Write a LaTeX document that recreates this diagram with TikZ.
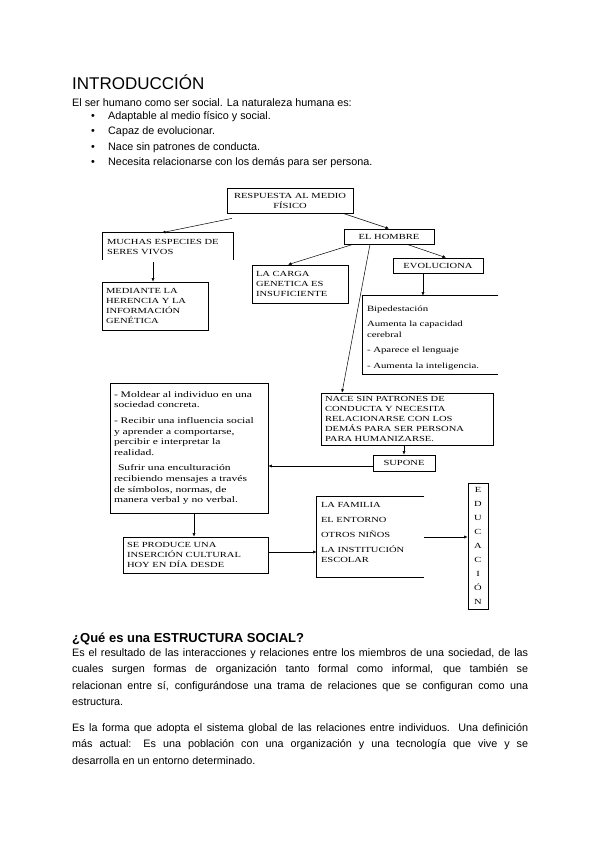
\documentclass[tikz,border=0pt]{standalone}
\usepackage{fontspec}
\setmainfont{Liberation Sans}
\newfontfamily\diagfont[FakeStretch=1.35]{Liberation Serif}
\usetikzlibrary{arrows.meta,positioning,calc}

\begin{document}
\begin{tikzpicture}[
    x=1pt, y=-1pt,
    every node/.style={inner sep=0pt},
    title/.style={font=\fontsize{17}{20}\selectfont},
    head/.style={font=\bfseries\fontsize{13}{16}\selectfont},
    body/.style={font=\fontsize{10.8}{16.5}\selectfont},
    para/.style={body, text width=456pt, align=justify, anchor=north west},
    box/.style={
        draw, line width=0.7pt,
        font=\diagfont\fontsize{7.8}{10}\selectfont,
        align=left,
        inner xsep=4pt, inner ysep=2pt
    },
    openbox/.style={box, draw=none},
    frame/.style={line width=0.7pt},
    arrow/.style={-{Latex[length=3.5pt,width=3pt]}, line width=0.5pt}
]

\path[use as bounding box, fill=white] (0,0) rectangle (600,848);

%% ── Introduction text ────────────────────────────────
\node[title, anchor=base west] (intro) at (72,90) {INTRODUCCIÓN};
\node[body, anchor=base west] (lead) at (72,107)
    {El ser humano como ser social. La naturaleza humana es:};
\foreach \t [count=\i] in {Adaptable al medio físico y social.,
    Capaz de evolucionar., Nace sin patrones de conducta.,
    Necesita relacionarse con los demás para ser persona.}{
    \node[body, anchor=base] (dot\i) at (93,{120+15*(\i-1)}) {\textbullet};
    \node[body, anchor=base west] (item\i) at (108,{120+15*(\i-1)}) {\t};
}

%% ── Top of the map ───────────────────────────────────
\node[box, align=center, text width=118pt, minimum height=25pt] (resp) at (290,200.5)
    {RESPUESTA AL MEDIO\\FÍSICO};
\node[openbox, text width=122pt, minimum height=27pt] (muchas) at (168,246.5)
    {MUCHAS ESPECIES DE\\SERES VIVOS};
\node[box, text width=98pt, minimum height=48pt] (mediante) at (155,306)
    {MEDIANTE LA\\HERENCIA Y LA\\INFORMACIÓN\\GENÉTICA};
\node[box, align=center, text width=82pt, minimum height=15pt] (hombre) at (389,236.5)
    {EL HOMBRE};
\node[box, text width=88pt, minimum height=38pt] (carga) at (300,284)
    {LA CARGA\\GENETICA ES\\INSUFICIENTE};
\node[box, align=center, text width=82pt, minimum height=15pt] (evol) at (438,265.5)
    {EVOLUCIONA};
\node[openbox, text width=127pt, minimum height=78pt,
      font=\diagfont\fontsize{8}{11}\selectfont] (biped) at (430.5,335)
    {\mbox{}\\[1pt]Bipedestación\\[4pt]Aumenta la capacidad\\cerebral\\[4pt]- Aparece el lenguaje\\[5pt]- Aumenta la inteligencia.};

%% ── Lower part of the map ────────────────────────────
\node[box, text width=164pt, minimum height=52pt] (nace) at (407,419)
    {NACE SIN PATRONES DE\\CONDUCTA Y NECESITA\\RELACIONARSE CON LOS\\DEMÁS PARA SER PERSONA\\PARA HUMANIZARSE.};
\node[box, align=center, text width=54pt, minimum height=16pt] (supone) at (404,463)
    {SUPONE};
\node[box, text width=150pt, minimum height=130pt,
      font=\diagfont\fontsize{8.6}{10.6}\selectfont] (moldear) at (189,448)
    {- Moldear al individuo en una\\sociedad concreta.\\[5pt]- Recibir una influencia social\\y aprender a comportarse,\\percibir e interpretar la\\realidad.\\[5pt]\hspace*{4pt}Sufrir una enculturación\\recibiendo mensajes a través\\de símbolos, normas, de\\manera verbal y no verbal.};
\node[box, text width=137pt, minimum height=36pt] (seprod) at (195.5,555)
    {SE PRODUCE UNA\\INSERCIÓN CULTURAL\\HOY EN DÍA DESDE};
\node[openbox, text width=99pt, minimum height=80pt] (familia) at (370.5,537)
    {LA FAMILIA\\[5pt]EL ENTORNO\\[5pt]OTROS NIÑOS\\[5pt]LA INSTITUCIÓN\\ESCOLAR\\\mbox{}};
\node[box, align=center, inner xsep=0pt, text width=20pt, minimum height=126pt,
      font=\diagfont\fontsize{7.8}{14}\selectfont] (educ) at (478,546)
    {E\\D\\U\\C\\A\\C\\I\\Ó\\N};

%% ── Open frames ──────────────────────────────────────
\draw[frame] (muchas.south west) -- (muchas.north west) -- (muchas.north east) -- (muchas.south east);
\draw[frame] (biped.north east) -- (biped.north west) -- (biped.south west) -- (biped.south east);
\draw[frame] (familia.north east) -- (familia.north west) -- (familia.south west) -- (familia.south east);

%% ── Connectors ───────────────────────────────────────
\coordinate (mtap) at ([xshift=-15pt,yshift=-2pt]muchas.south);
\coordinate (etap) at ([xshift=-15pt]evol.south);
\coordinate (stap) at ([yshift=-3pt]supone.west);
\coordinate (ltap) at ([xshift=5pt]moldear.south);
\coordinate (ftap) at ([yshift=3pt]seprod.east);

\draw[arrow] ([xshift=-58pt,yshift=-5pt]resp.south) -- ([xshift=-6pt]muchas.north);
\draw[arrow] ([xshift=53pt]resp.south) -- (hombre.north);
\draw[arrow] ([xshift=-36pt]hombre.south) -- ([xshift=-12pt]carga.north);
\draw[arrow] ([xshift=-19pt]hombre.south) -- ([xshift=-65pt]nace.north);
\draw[arrow] ([xshift=18pt]hombre.south) -- ([xshift=8pt]evol.north);
\draw[arrow] (etap) -- (etap |- biped.north);
\draw[arrow] (mtap) -- (mtap |- mediante.north);
\draw[arrow] (nace.south -| supone.north) -- (supone.north);
\draw[arrow] (stap) -- (stap -| moldear.east);
\draw[arrow] (ltap) -- (ltap |- seprod.north);
\draw[arrow] (ftap) -- (ftap -| familia.west);
\draw[arrow] (familia.east) -- (familia.east -| educ.west);

%% ── Social structure text ────────────────────────────
\node[head, anchor=base west] (estr) at (72,642) {¿Qué es una ESTRUCTURA SOCIAL?};
\node[para] (def1) at (72,648)
    {Es el resultado de las interacciones y relaciones entre los miembros de una sociedad, de las\linebreak
     cuales surgen formas de organización tanto formal como informal, que también se\linebreak
     relacionan entre sí, configurándose una trama de relaciones que se configuran como una\linebreak
     estructura.};
\node[para] (def2) at (72,723)
    {Es la forma que adopta el sistema global de las relaciones entre individuos. Una definición\linebreak
     más actual: Es una población con una organización y una tecnología que vive y se\linebreak
     desarrolla en un entorno determinado.};

\end{tikzpicture}
\end{document}
